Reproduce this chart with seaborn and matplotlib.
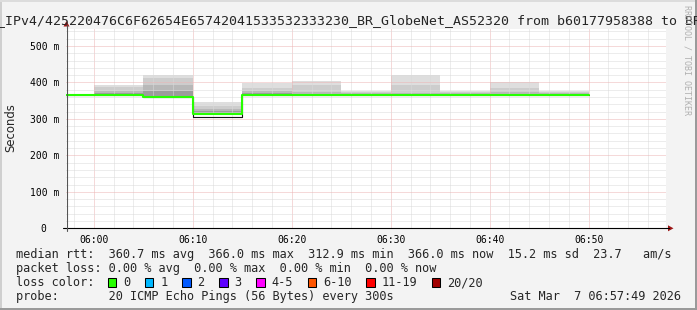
import numpy as np
import pandas as pd
import matplotlib
matplotlib.use("Agg")
import matplotlib.pyplot as plt
import seaborn as sns
from matplotlib.patches import Rectangle, Polygon
from matplotlib.lines import Line2D

# ---------------- data ----------------
title = "_IPv4/425220476C6F62654E65742041533532333230_BR_GlobeNet_AS52320 from b60177958388 to BR"
seg_start_min = [-5, 0, 5, 10, 15, 20, 25, 30, 35, 40, 45]   # minutes after 06:00
seg_len_min = 5
median_ms = [366.0, 366.0, 361.0, 312.9, 366.0, 366.0, 366.0, 366.0, 366.0, 366.0, 366.0]
dark_ms   = [366.0, 366.0, 361.0, 306.5, 366.0, 366.0, 366.0, 366.0, 366.0, 366.0, 366.0]
smoke_max = [366, 393, 420, 347, 399, 403, 377, 420, 377, 401, 377]
smoke_q1  = [366, 387, 411, 335, 386, 393, 373, 393, 373, 385, 373]
smoke_q2  = [366, 377, 393, 327, 377, 375, 370, 372, 370, 375, 370]
smoke_q3  = [366, 370, 377, 322, 370, 369, 368, 369, 368, 369, 368]
smoke_q4  = [366, 367, 363, 317, 367, 367, 367, 367, 367, 367, 367]
loss_pct  = [0.0] * 11
ams_value = 23.7

xtick_min = [0, 10, 20, 30, 40, 50]
xtick_labels = ["06:00", "06:10", "06:20", "06:30", "06:40", "06:50"]
ytick_ms = [0, 100, 200, 300, 400, 500]
ytick_labels = ["0  ", "100 m", "200 m", "300 m", "400 m", "500 m"]
y_top_ms = 546.6
x_start_min, x_end_min = -2 - 49 / 60, 57 + 49 / 60

loss_labels = ["0", "1", "2", "3", "4-5", "6-10", "11-19", "20/20"]
loss_colors = ["#26ff00", "#00b8ff", "#0059ff", "#5e00ff", "#ff00ff", "#ff5500", "#ff0000", "#a10000"]
probe_text = "20 ICMP Echo Pings (56 Bytes) every 300s"
date_text = "Sat Mar  7 06:57:49 2026"
ylabel = "Seconds"
watermark = "RRDTOOL / TOBI OETIKER"

# ---------------- figure ----------------
W, H = 697, 310
MONO = "DejaVu Sans Mono"
sns.set_style("white")
plt.rcParams["font.family"] = ["DejaVu Sans"]

fig = plt.figure(figsize=(W / 100, H / 100), dpi=100, facecolor="#f3f3f3")

def fx(x):
    return x / W

def fy(y):
    return 1 - y / H

# border shading
fig.add_artist(Rectangle((0, 0), fx(2), 1, transform=fig.transFigure, color="#cfcfcf", lw=0))
fig.add_artist(Rectangle((0, fy(2)), 1, 2 / H, transform=fig.transFigure, color="#dcdcdc", lw=0))
fig.add_artist(Rectangle((fx(W - 2), 0), fx(2), 1, transform=fig.transFigure, color="#9a9a9a", lw=0))
fig.add_artist(Rectangle((0, 0), 1, 2 / H, transform=fig.transFigure, color="#9a9a9a", lw=0))

ax_left, ax_right, ax_top, ax_bot = 66, 666, 29, 228.3
ax = fig.add_axes([fx(ax_left), fy(ax_bot), (ax_right - ax_left) / W, (ax_bot - ax_top) / H])
ax.set_facecolor("white")

# step arrays
x = list(seg_start_min) + [seg_start_min[-1] + seg_len_min]
ext = lambda a: list(a) + [a[-1]]

bands = [
    (smoke_max, smoke_q1, "#dedede"),
    (smoke_q1, smoke_q2, "#cdcdcd"),
    (smoke_q2, smoke_q3, "#b8b8b8"),
    (smoke_q3, smoke_q4, "#9c9c9c"),
    (smoke_q4, median_ms, "#555555"),
]
for up, lo, col in bands:
    ax.fill_between(x, ext(lo), ext(up), step="post", color=col, lw=0, zorder=1)

df = pd.DataFrame({"t": x, "median": ext(median_ms), "dark": ext(dark_ms)})
sns.lineplot(data=df, x="t", y="dark", drawstyle="steps-post", color="#111111",
             linewidth=0.8, ax=ax, zorder=3)
sns.lineplot(data=df, x="t", y="median", drawstyle="steps-post", color="#26ff00",
             linewidth=1.5, ax=ax, zorder=4)

ax.set_xlim(x_start_min, x_end_min)
ax.set_ylim(0, y_top_ms)
ax.set_xlabel("")
ax.set_ylabel("")
for s in ax.spines.values():
    s.set_visible(False)

ax.set_xticks(xtick_min, labels=xtick_labels)
ax.set_xticks(np.arange(-2, 58, 2), minor=True)
ax.set_yticks(ytick_ms, labels=ytick_labels)
ax.set_yticks(np.arange(0, 560, 20), minor=True)
ax.grid(which="minor", color="#dadada", linestyle=(0, (1, 1)), linewidth=0.72)
ax.grid(which="major", color="#ecb4b4", linestyle=(0, (1, 1)), linewidth=0.72)
ax.set_axisbelow(False)
ax.tick_params(which="both", direction="out", length=2, width=0.72, labelsize=7.0,
               labelcolor="black", pad=3)
ax.tick_params(which="major", color="#e08c8c")
ax.tick_params(which="minor", color="#c8c8c8")
for lab in ax.get_xticklabels() + ax.get_yticklabels():
    lab.set_family(MONO)

# axis lines + arrows
fig.add_artist(Line2D([fx(63), fx(669)], [fy(ax_bot), fy(ax_bot)], color="black", lw=0.8))
fig.add_artist(Line2D([fx(66.5), fx(66.5)], [fy(231), fy(25)], color="#555555", lw=0.8))
arrow_col = "#9b1515"
fig.add_artist(Polygon([(fx(668), fy(225.3)), (fx(668), fy(231.3)), (fx(673.5), fy(228.3))],
                       closed=True, transform=fig.transFigure, color=arrow_col, lw=0))
fig.add_artist(Polygon([(fx(63.5), fy(26.5)), (fx(69.5), fy(26.5)), (fx(66.5), fy(21))],
                       closed=True, transform=fig.transFigure, color=arrow_col, lw=0))

# title
fig.text(fx(-2.8), fy(24), title, family=MONO, fontsize=9.57, va="baseline", ha="left")

# y label
fig.text(fx(11), fy(127.5), ylabel, rotation=90, fontsize=8.4, ha="center", va="center")

# watermark
fig.text(fx(687), fy(60), watermark, rotation=-90, family=MONO, fontsize=6.0,
         color="#b0b0b0", ha="center", va="center")

# legend rows
avg_v = float(np.mean(median_ms))
max_v = float(np.max(median_ms))
min_v = float(np.min(median_ms))
now_v = float(median_ms[-1])
sd_v = float(np.std(median_ms))
row1 = (f"median rtt:  {avg_v:.1f} ms avg  {max_v:.1f} ms max  {min_v:.1f} ms min  "
        f"{now_v:.1f} ms now  {sd_v:.1f} ms sd  {ams_value:.1f}   am/s")
la, lm, ln, lw_ = np.mean(loss_pct), np.max(loss_pct), loss_pct[-1], np.min(loss_pct)
row2 = f"packet loss: {la:.2f} % avg  {lm:.2f} % max  {lw_:.2f} % min  {ln:.2f} % now"
row3 = "loss color:"
row4 = "probe:       " + probe_text

LX = 15.5
LFS = 8.52
for txt, yb in [(row1, 258.3), (row2, 272.0), (row3, 286.0), (row4, 299.7)]:
    fig.text(fx(LX), fy(yb), txt, family=MONO, fontsize=LFS, va="baseline", ha="left")
fig.text(fx(681), fy(299.7), date_text, family=MONO, fontsize=LFS, va="baseline", ha="right")

cw = 7.12
bx = 108.0
for lab, col in zip(loss_labels, loss_colors):
    fig.add_artist(Rectangle((fx(bx), fy(286.7)), 8.3 / W, 8.3 / H, transform=fig.transFigure,
                             facecolor=col, edgecolor="black", lw=0.75))
    fig.text(fx(bx + 15), fy(286.0), lab, family=MONO, fontsize=LFS, va="baseline", ha="left")
    bx += cw * len(lab) + 30

fig.savefig("out.png", dpi=100, facecolor=fig.get_facecolor())
